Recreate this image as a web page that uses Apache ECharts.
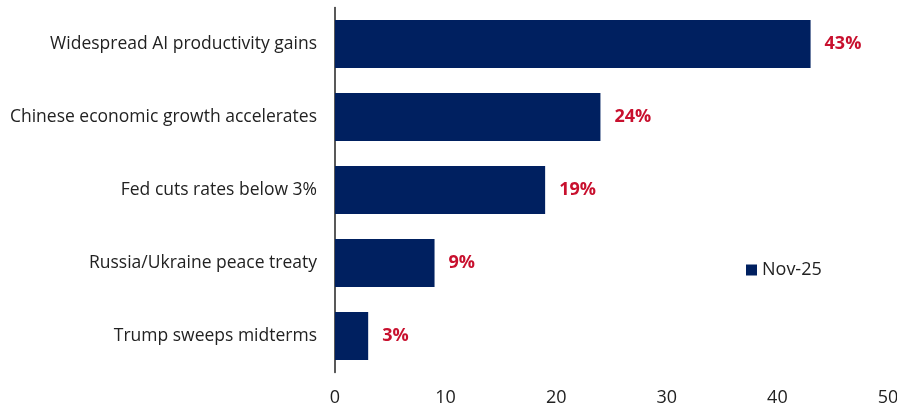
<!DOCTYPE html>
<html>
<head>
<meta charset="utf-8">
<script src="https://cdn.jsdelivr.net/npm/echarts@6/dist/echarts.min.js"></script>
<style>
  html, body { margin: 0; padding: 0; background: #fff; }
  #chart { width: 897px; height: 408px; }
</style>
</head>
<body>
<div id="chart"></div>
<script>
// Survey outcomes, listed top to bottom
const categories = [
  'Widespread AI productivity gains',
  'Chinese economic growth accelerates',
  'Fed cuts rates below 3%',
  'Russia/Ukraine peace treaty',
  'Trump sweeps midterms'
];
const nov25 = [43, 24, 19, 9, 3];
const xTicks = [0, 10, 20, 30, 40, 50];

const FONT = '"Open Sans", "Noto Sans", sans-serif';

const chart = echarts.init(document.getElementById('chart'));
chart.setOption({
  animation: false,
  textStyle: { fontFamily: FONT },
  grid: {
    left: 335, right: 9, top: 7.5, bottom: 35.5,
    containLabel: false,
    outerBoundsMode: 'none'
  },
  legend: {
    data: ['Nov-25'],
    left: 741, top: 256,
    itemWidth: 11, itemHeight: 11, itemGap: 5,
    icon: 'rect',
    textStyle: { fontSize: 18, color: '#222', fontFamily: FONT }
  },
  xAxis: {
    type: 'value',
    min: xTicks[0], max: xTicks[xTicks.length - 1], interval: 10,
    axisLine: { show: false },
    axisTick: { show: false },
    splitLine: { show: false },
    axisLabel: { fontSize: 18, color: '#222', margin: 16, fontFamily: FONT }
  },
  yAxis: {
    type: 'category',
    inverse: true,
    data: categories,
    axisLine: { show: true, lineStyle: { color: '#222', width: 1.5 } },
    axisTick: { show: false },
    axisLabel: { fontSize: 17.5, color: '#222', margin: 18, fontFamily: FONT }
  },
  series: [{
    name: 'Nov-25',
    type: 'bar',
    data: nov25,
    barCategoryGap: '34%',
    itemStyle: { color: '#002060' },
    label: {
      show: true,
      position: 'right',
      distance: 14,
      formatter: p => p.value + '%',
      color: '#C8102E',
      fontWeight: 'bold',
      fontSize: 18,
      fontFamily: FONT
    }
  }]
});
</script>
</body>
</html>
